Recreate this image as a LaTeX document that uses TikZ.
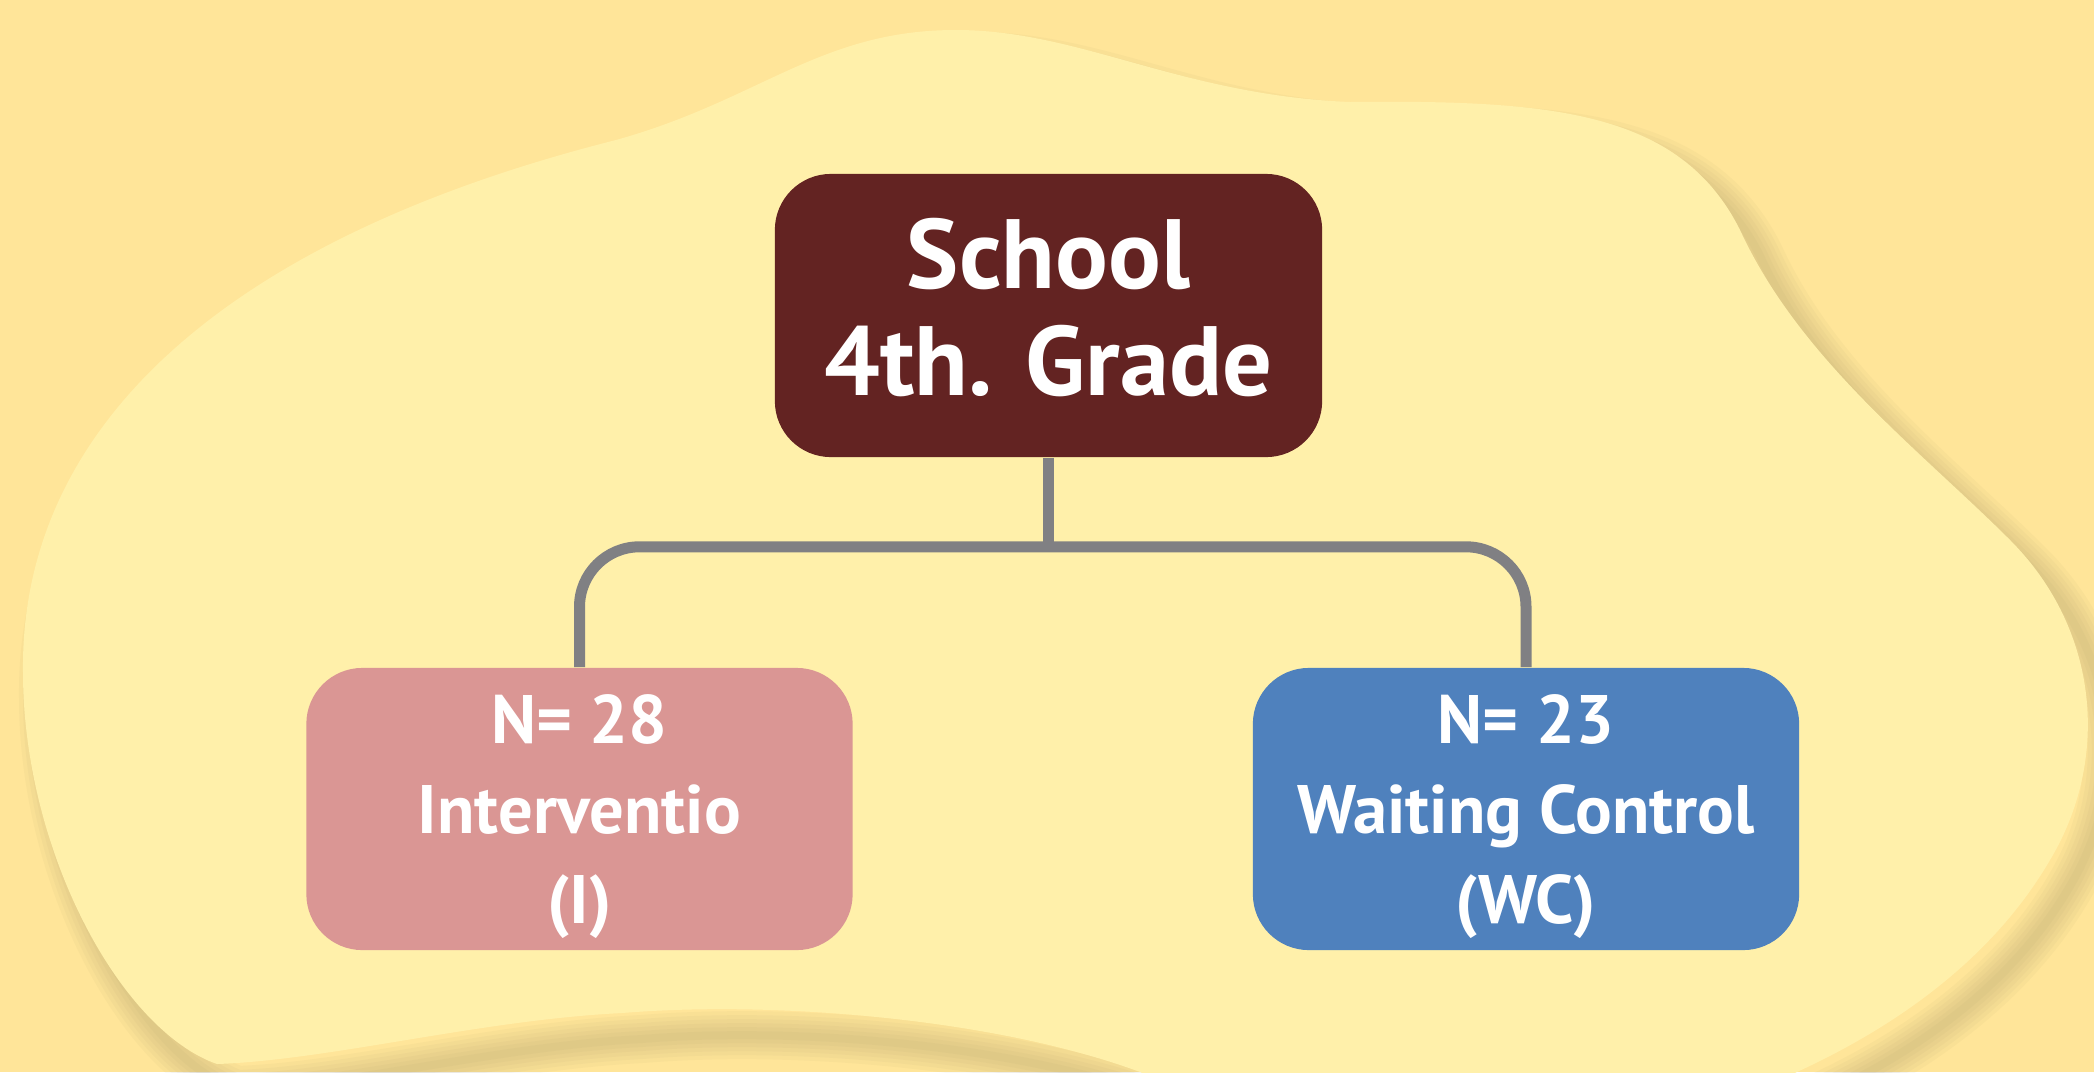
\documentclass[tikz,border=0pt]{standalone}
\usepackage{fontspec}
\newfontfamily\boxfont{PT Sans}
\usetikzlibrary{
  calc,
}
\definecolor{sand}{RGB}{255, 229, 153}
\definecolor{cream}{RGB}{255, 240, 170}
\definecolor{dune}{RGB}{147, 133, 93}
\definecolor{maroon}{RGB}{99, 35, 34}
\definecolor{rose}{RGB}{218, 150, 148}
\definecolor{steel}{RGB}{79, 129, 189}
\definecolor{wire}{RGB}{128, 128, 131}

\tikzstyle{group} = [
  rectangle,
  rounded corners=0.56cm,
  minimum width=5.46cm,
  minimum height=2.82cm,
  inner sep=0pt,
  align=center,
  text=white,
  text depth=-9pt,
  font=\boxfont\bfseries\fontsize{19.5}{25.5}\selectfont,
]
\tikzstyle{root} = [
  group,
  minimum width=5.47cm,
  minimum height=2.83cm,
  text depth=0.18cm,
  font=\boxfont\bfseries\fontsize{28}{30.5}\selectfont,
]
\tikzstyle{link} = [
  line width=0.11cm,
  wire,
  rounded corners=0.6cm,
]

% outline of the pale blob behind the chart (pixel units)
\newcommand{\blobpath}{
  (217,1064) .. controls (120,1030) and (23,850) .. (23,672)
             .. controls (20,430) and (220,240) .. (616,140)
             .. controls (760,100) and (820,30) .. (956,30)
             .. controls (1080,30) and (1180,95) .. (1350,102)
             .. controls (1550,100) and (1680,110) .. (1740,230)
             .. controls (1800,360) and (1920,450) .. (2010,540)
             .. controls (2100,630) and (2110,760) .. (2050,860)
             .. controls (1980,980) and (1850,1060) .. (1700,1110)
             .. controls (1500,1170) and (1300,1140) .. (1140,1072)
             .. controls (1000,1020) and (780,1000) .. (622,1013)
             .. controls (480,1020) and (330,1060) .. (217,1064) -- cycle}

\begin{document}
\begin{tikzpicture}[x=0.01cm, y=-0.01cm]

        \useasboundingbox (0,0) rectangle (2094,1072);
        \fill [sand] (0,0) rectangle (2094,1072);

        \begin{scope}
          \clip (0,0) rectangle (2094,1072);
          \foreach \w in {8,16,...,48} {
            \draw [dune, opacity=0.05, line width=\w*0.01cm, shift={(20,26)}] \blobpath;
          }
          \fill [cream] \blobpath;
        \end{scope}

        \node [root, fill=maroon] (school) at (1048.5,315.5) {School\\4th. Grade};

        \node [group, fill=rose] (inter) at (579.5,809) {N= 28\\Interventio\\(I)};

        \node [group, fill=steel] (wait) at (1526,809) {N= 23\\Waiting Control\\(WC)};

        \coordinate (fork) at ($(school.south)+(0,89)$);

        \draw [link] (school.south) -- (fork);
        \draw [link] (inter.north) |- (fork) -| (wait.north);
      \end{tikzpicture}
\end{document}
